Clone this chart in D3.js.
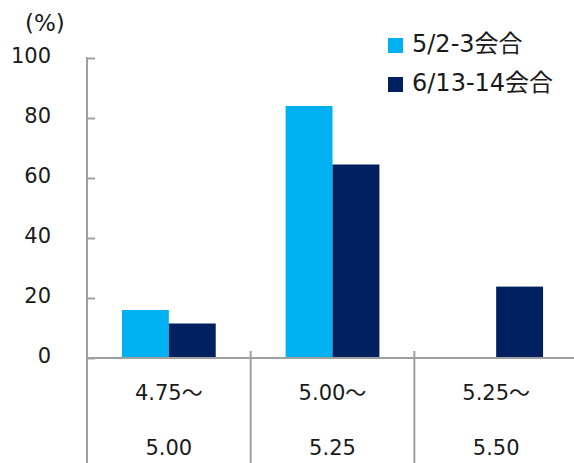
<!DOCTYPE html>
<html><head><meta charset="utf-8">
<script src="https://cdn.jsdelivr.net/npm/d3@7"></script>
<style>
html,body{margin:0;padding:0;background:#fff;}
text{font-family:"DejaVu Sans","Noto Sans CJK JP",sans-serif;fill:#1a1a1a;}
</style></head>
<body>
<svg id="c" width="574" height="463"></svg>
<script>
const categoriesTop = ["4.75～", "5.00～", "5.25～"];
const categoriesBottom = ["5.00", "5.25", "5.50"];
const seriesNames = ["5/2-3会合", "6/13-14会合"];
const seriesColors = ["#00B0F0", "#002060"];
const valuesMay = [16, 84, 0];
const valuesJune = [11.5, 64.5, 23.8];
const yTicks = [0, 20, 40, 60, 80, 100];

(function () {
const svg = d3.select("#c");
const pLeft = 87, pRight = 578, pTop = 58, base = 358, pBottom = 463;
const x = d3.scaleBand().domain(categoriesTop).range([pLeft, pRight]).paddingInner(0).paddingOuter(0);
const xs = d3.scaleBand().domain(seriesNames).range([0, x.bandwidth()]).paddingInner(0).paddingOuter(0.745);
const y = d3.scaleLinear().domain([0, 100]).range([base, pTop]);
const axisColor = "#a0a0a0";

// bars
const series = [valuesMay, valuesJune];
series.forEach((vals, si) => {
  svg.append("g").selectAll("rect").data(vals).join("rect")
    .attr("x", (d, i) => x(categoriesTop[i]) + xs(seriesNames[si]))
    .attr("width", xs.bandwidth())
    .attr("y", d => y(d))
    .attr("height", d => base - y(d))
    .attr("fill", seriesColors[si]);
});

// y axis
const yAxis = d3.axisRight(y).tickValues(yTicks).tickSize(8).tickFormat("");
const gy = svg.append("g").attr("transform", `translate(${pLeft},0)`).call(yAxis);
gy.select(".domain").remove();
gy.selectAll(".tick line").attr("stroke", axisColor).attr("stroke-width", 2);
svg.append("line").attr("x1", pLeft).attr("x2", pLeft).attr("y1", pTop - 1).attr("y2", pBottom)
  .attr("stroke", axisColor).attr("stroke-width", 2);
svg.append("g").selectAll("text").data(yTicks).join("text")
  .attr("x", 51).attr("y", d => y(d) + 4.5)
  .attr("text-anchor", "end").attr("font-size", 21).text(d => d);
svg.append("text").attr("x", 25).attr("y", 30.5).attr("font-size", 23).text("(%)");

// baseline
svg.append("line").attr("x1", pLeft).attr("x2", 574).attr("y1", base).attr("y2", base)
  .attr("stroke", axisColor).attr("stroke-width", 2);
// separators
svg.append("g").selectAll("line").data(categoriesTop.slice(1)).join("line")
  .attr("x1", d => x(d)).attr("x2", d => x(d)).attr("y1", base - 7).attr("y2", pBottom)
  .attr("stroke", axisColor).attr("stroke-width", 2);

// category labels
svg.append("g").selectAll("text").data(categoriesTop).join("text")
  .attr("x", d => x(d) + x.bandwidth() / 2).attr("y", 400)
  .attr("text-anchor", "middle").attr("font-size", 21).text(d => d);
svg.append("g").selectAll("text").data(categoriesBottom).join("text")
  .attr("x", (d, i) => x(categoriesTop[i]) + x.bandwidth() / 2).attr("y", 455)
  .attr("text-anchor", "middle").attr("font-size", 21).text(d => d);

// legend
const lg = svg.append("g");
seriesNames.forEach((n, i) => {
  const cy = 45.5 + i * 39;
  lg.append("rect").attr("x", 388).attr("y", cy - 7.5).attr("width", 15).attr("height", 15).attr("fill", seriesColors[i]);
  lg.append("text").attr("x", 412).attr("y", cy + 6).attr("font-size", 24).text(n);
});
})();
</script>
</body></html>
